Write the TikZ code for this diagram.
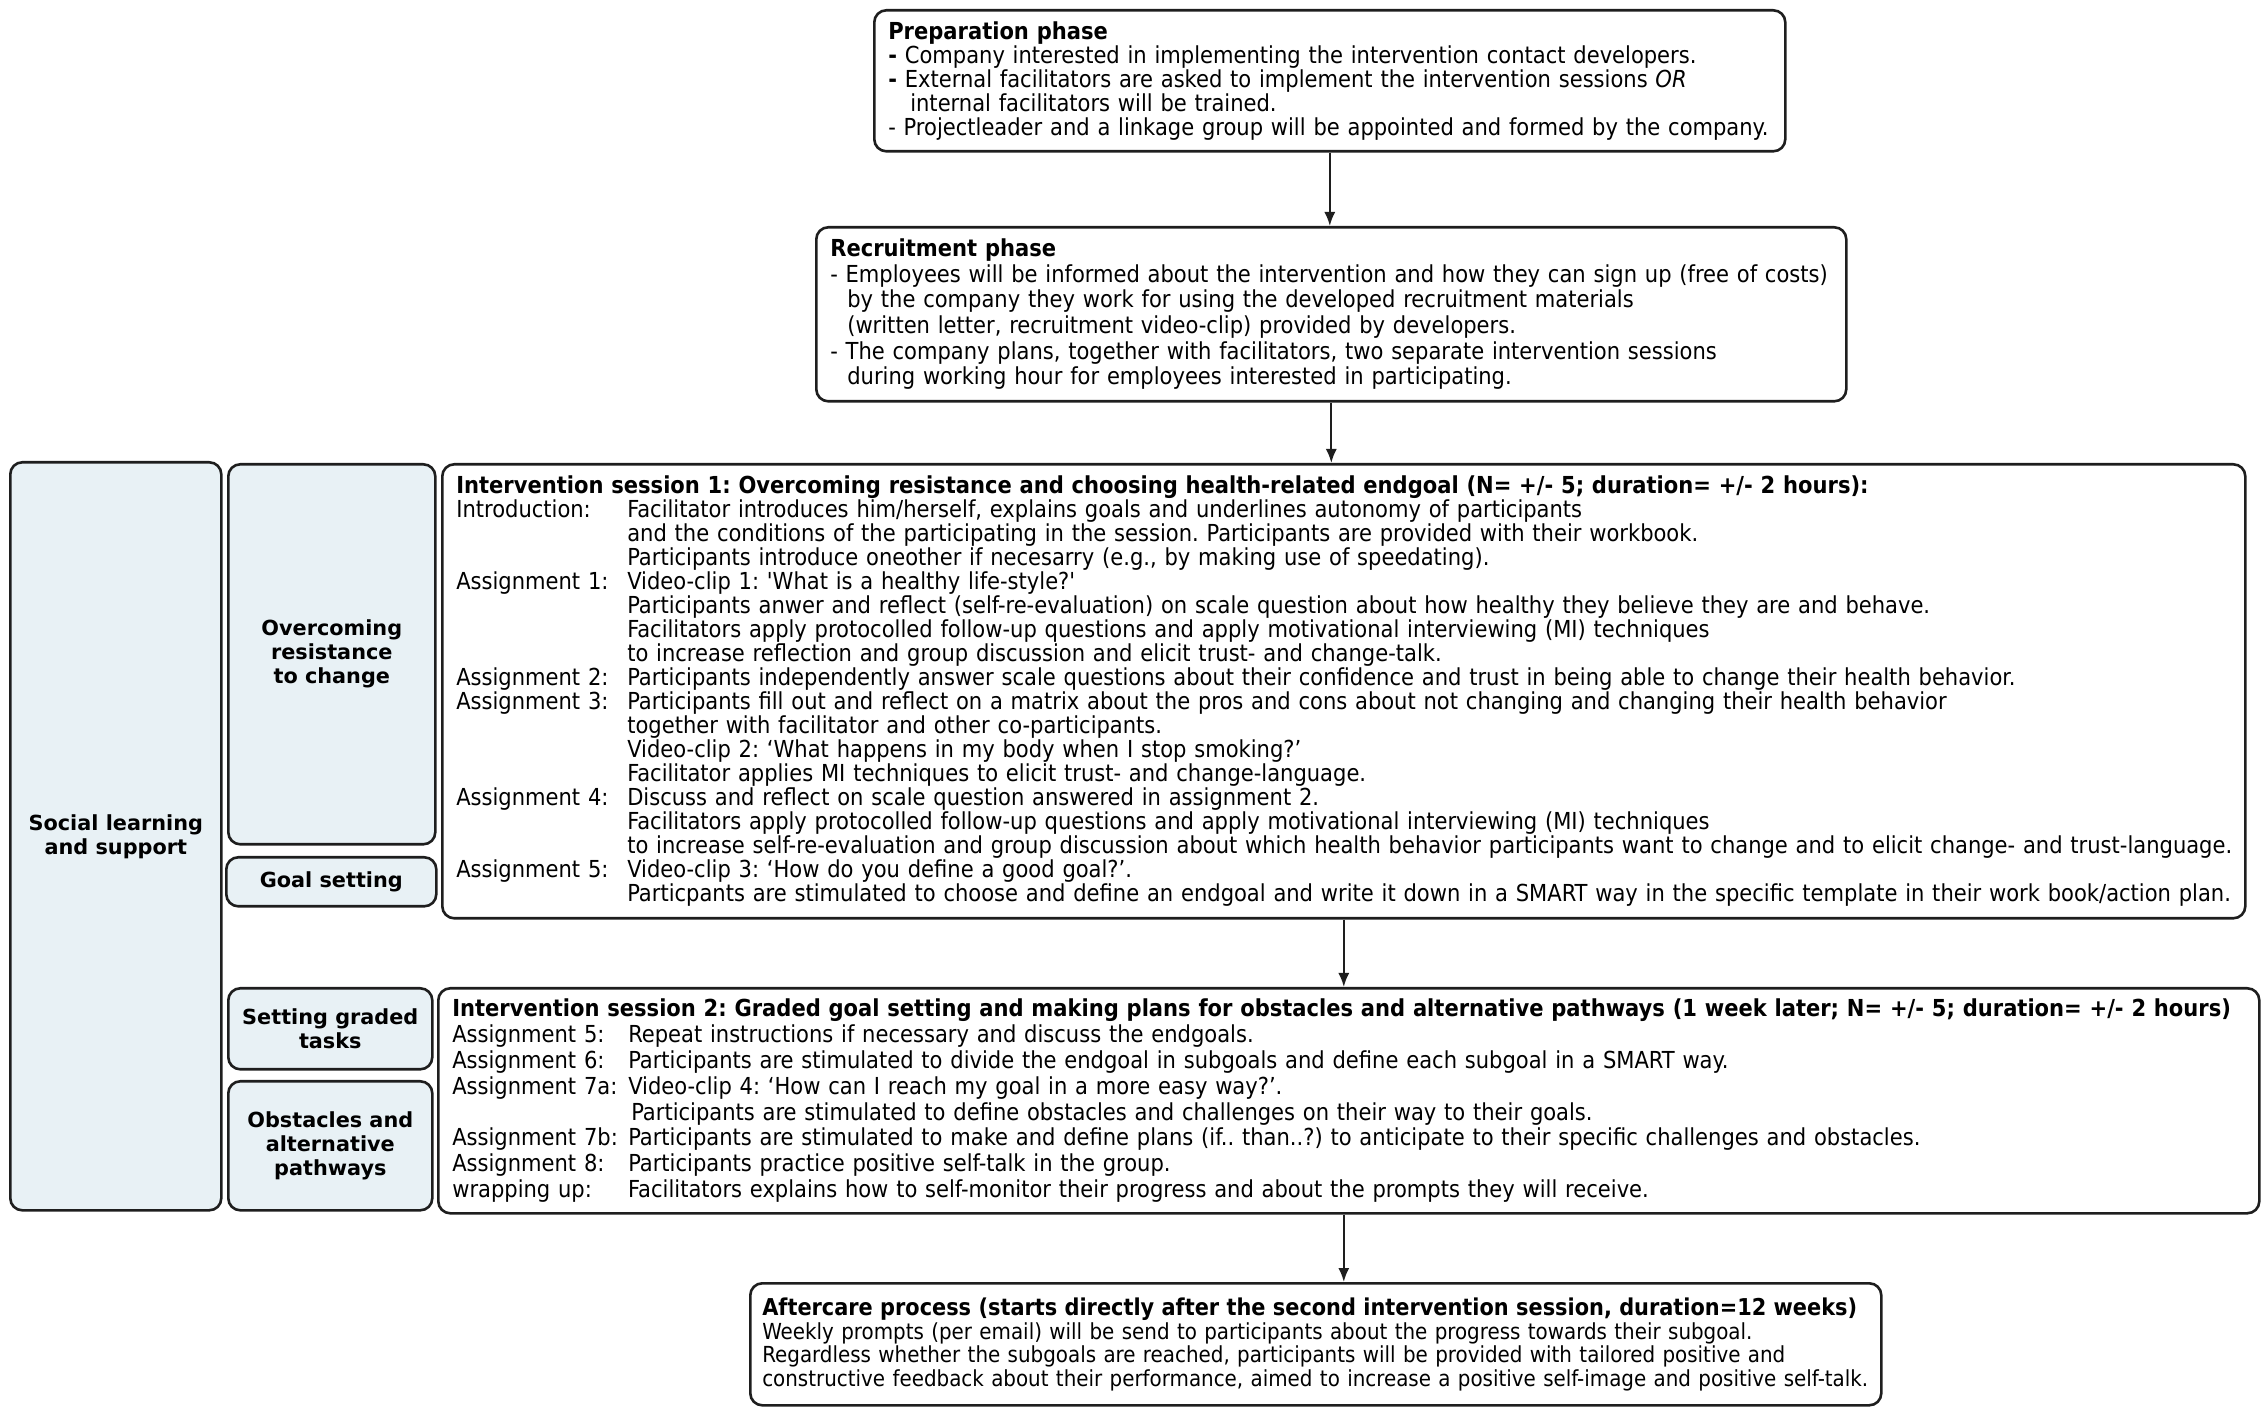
\documentclass[tikz,border=0pt]{standalone}
\usepackage{fontspec}
\setmainfont{DejaVu Sans Condensed}
\newfontfamily\sidefont{DejaVu Sans}
\usepackage{xcolor}
\usetikzlibrary{arrows.meta,positioning}

\definecolor{sidefill}{RGB}{232,241,245}
\definecolor{edge}{RGB}{30,30,30}

\newlength\asgw
\newcommand{\asg}[2]{\makebox[\asgw][l]{#1}\mbox{#2}}
\frenchspacing

\begin{document}
\begin{tikzpicture}[x=0.5pt, y=-0.5pt,
    phasebox/.style={draw=edge, line width=1.3pt, rounded corners=6pt, anchor=north west, align=left, inner xsep=7pt, inner ysep=0pt, font=\fontsize{11.7}{12}\selectfont},
    sidebox/.style={draw=edge, line width=1.3pt, rounded corners=6pt, fill=sidefill, anchor=north west, align=center, inner sep=1pt, font=\sidefont\bfseries\fontsize{10.4}{12}\selectfont},
    arrow/.style={-{Latex[length=7pt, width=5.5pt]}, line width=1pt, draw=edge}
]
\useasboundingbox (0,0) rectangle (2267,1416);

\node[phasebox, minimum width=455.5pt, minimum height=70.5pt, text width=441.5pt] (prep) at (873,9) {%
\textbf{Preparation phase}\\
\textbf{-} Company interested in implementing the intervention contact developers.\\
\textbf{-} External facilitators are asked to implement the intervention sessions \textit{OR}\\
\hspace*{11pt}internal facilitators will be trained.\\
- Projectleader and a linkage group will be appointed and formed by the company.};

\node[phasebox, minimum width=515pt, minimum height=87pt, text width=501pt, font=\fontsize{11.7}{12.8}\selectfont] (recruit) at (815,226) {%
\textbf{Recruitment phase}\\
- Employees will be informed about the intervention and how they can sign up (free of costs)\\
\hspace*{8.5pt}by the company they work for using the developed recruitment materials\\
\hspace*{8.5pt}(written letter, recruitment video-clip) provided by developers.\\
- The company plans, together with facilitators, two separate intervention sessions\\
\hspace*{8.5pt}during working hour for employees interested in participating.};

\node[sidebox, minimum width=105.5pt, minimum height=374pt] (social) at (9,461) {Social learning\\and support};
\node[sidebox, minimum width=103.5pt, minimum height=190pt] (resist) at (227,463) {Overcoming\\resistance\\to change};
\node[sidebox, minimum width=105pt, minimum height=24.5pt] (goal) at (225,856) {Goal setting};
\node[sidebox, minimum width=102pt, minimum height=40.5pt] (graded) at (227,987) {Setting graded\\tasks};
\node[sidebox, minimum width=102pt, minimum height=64.5pt] (obstacles) at (227,1080) {Obstacles and\\alternative\\pathways};

\node[phasebox, minimum width=901.5pt, minimum height=227pt, text width=887.5pt] (session1) at (441,463) {%
\setlength\asgw{85.5pt}%
\mbox{\textbf{Intervention session 1: Overcoming resistance and choosing health-related endgoal (N= +/- 5; duration= +/- 2 hours):}}\\
\asg{Introduction:}{Facilitator introduces him/herself, explains goals and underlines autonomy of participants}\\
\asg{}{and the conditions of the participating in the session. Participants are provided with their workbook.}\\
\asg{}{Participants introduce oneother if necesarry (e.g., by making use of speedating).}\\
\asg{Assignment 1:}{Video-clip 1: \textquotesingle What is a healthy life-style?\textquotesingle}\\
\asg{}{Participants anwer and reflect (self-re-evaluation) on scale question about how healthy they believe they are and behave.}\\
\asg{}{Facilitators apply protocolled follow-up questions and apply motivational interviewing (MI) techniques}\\
\asg{}{to increase reflection and group discussion and elicit trust- and change-talk.}\\
\asg{Assignment 2:}{Participants independently answer scale questions about their confidence and trust in being able to change their health behavior.}\\
\asg{Assignment 3:}{Participants fill out and reflect on a matrix about the pros and cons about not changing and changing their health behavior}\\
\asg{}{together with facilitator and other co-participants.}\\
\asg{}{Video-clip 2: `What happens in my body when I stop smoking?'}\\
\asg{}{Facilitator applies MI techniques to elicit trust- and change-language.}\\
\asg{Assignment 4:}{Discuss and reflect on scale question answered in assignment 2.}\\
\asg{}{Facilitators apply protocolled follow-up questions and apply motivational interviewing (MI) techniques}\\
\asg{}{to increase self-re-evaluation and group discussion about which health behavior participants want to change and to elicit change- and trust-language.}\\
\asg{Assignment 5:}{Video-clip 3: `How do you define a good goal?'.}\\
\asg{}{Particpants are stimulated to choose and define an endgoal and write it down in a SMART way in the specific template in their work book/action plan.}};

\node[phasebox, minimum width=910.5pt, minimum height=112.5pt, text width=896.5pt, font=\fontsize{11.7}{12.9}\selectfont] (session2) at (437,987) {%
\setlength\asgw{88pt}%
\mbox{\textbf{Intervention session 2: Graded goal setting and making plans for obstacles and alternative pathways (1 week later; N= +/- 5; duration= +/- 2 hours)}}\\
\asg{Assignment 5:}{Repeat instructions if necessary and discuss the endgoals.}\\
\asg{Assignment 6:}{Participants are stimulated to divide the endgoal in subgoals and define each subgoal in a SMART way.}\\
\asg{Assignment 7a:}{Video-clip 4: `How can I reach my goal in a more easy way?'.}\\
\asg{}{\hspace*{1.5pt}Participants are stimulated to define obstacles and challenges on their way to their goals.}\\
\asg{Assignment 7b:}{Participants are stimulated to make and define plans (if.. than..?) to anticipate to their specific challenges and obstacles.}\\
\asg{Assignment 8:}{Participants practice positive self-talk in the group.}\\
\asg{wrapping up:}{Facilitators explains how to self-monitor their progress and about the prompts they will receive.}};

\node[phasebox, minimum width=565.5pt, minimum height=61pt, text width=553.5pt, inner xsep=6pt, font=\fontsize{11.05}{11.8}\selectfont] (aftercare) at (749,1282) {%
\mbox{\fontsize{11.6}{11.8}\selectfont\textbf{Aftercare process (starts directly after the second intervention session, duration=12 weeks)}}\\
\mbox{Weekly prompts (per email) will be send to participants about the progress towards their subgoal.}\\
\mbox{Regardless whether the subgoals are reached, participants will be provided with tailored positive and}\\
\mbox{constructive feedback about their performance, aimed to increase a positive self-image and positive self-talk.}};

\draw[arrow] (prep.south) -- (prep.south |- recruit.north);
\draw[arrow] (recruit.south) -- (recruit.south |- session1.north);
\draw[arrow] (session1.south) -- (session1.south |- session2.north);
\draw[arrow] (session1.south |- session2.south) -- (session1.south |- aftercare.north);

\end{tikzpicture}
\end{document}
